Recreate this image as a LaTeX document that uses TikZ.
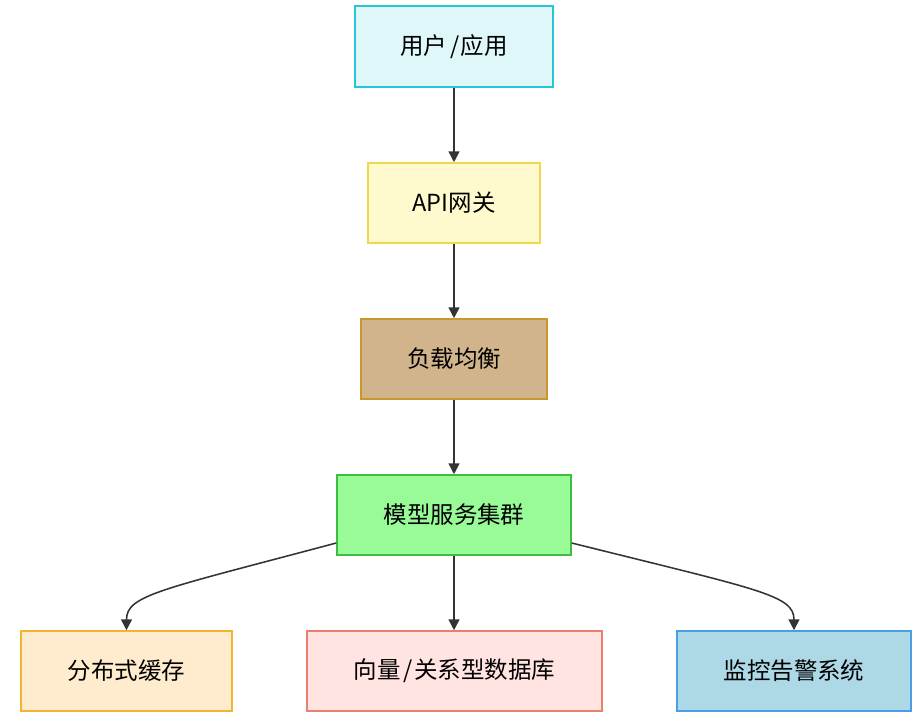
\documentclass[tikz,border=0pt]{standalone}
\usepackage{fontspec}
\newfontfamily\cjk{Noto Sans CJK SC}
\usepackage{tikz}
\usetikzlibrary{arrows.meta}

\definecolor{userfill}{HTML}{E0F7FA}
\definecolor{userline}{HTML}{26C6DA}
\definecolor{apifill}{HTML}{FFFACD}
\definecolor{apiline}{HTML}{F2D64B}
\definecolor{lbfill}{HTML}{D2B48C}
\definecolor{lbline}{HTML}{C8982E}
\definecolor{clusterfill}{HTML}{98FB98}
\definecolor{clusterline}{HTML}{3EBE3E}
\definecolor{cachefill}{HTML}{FFEBCD}
\definecolor{cacheline}{HTML}{F2B531}
\definecolor{dbfill}{HTML}{FFE4E1}
\definecolor{dbline}{HTML}{E9806E}
\definecolor{monfill}{HTML}{ADD8E6}
\definecolor{monline}{HTML}{4A9EE6}
\definecolor{arrowgray}{HTML}{333333}

\begin{document}
\begin{tikzpicture}[x=0.025cm,y=-0.025cm,
   box/.style={draw,line width=1.1pt,minimum height=2cm,inner sep=0pt,
      font=\cjk\fontsize{16.7}{20}\selectfont},
   flow/.style={draw=arrowgray,line width=1.1pt,
      -{Triangle[length=0.27cm,width=0.27cm]}}]
   \useasboundingbox (0,0) rectangle (924,723);

   \node[box,fill=userfill,draw=userline,minimum width=4.95cm,minimum height=2.025cm] (user) at (454,46.5) {用户\hspace{0.12em}/\hspace{0.05em}应用};
   \node[box,fill=apifill,draw=apiline,minimum width=4.3cm] (gateway) at (454,203) {API网关};
   \node[box,fill=lbfill,draw=lbline,minimum width=4.65cm] (balancer) at (454,359) {负载均衡};
   \node[box,fill=clusterfill,draw=clusterline,minimum width=5.85cm] (cluster) at (454,515) {模型服务集群};

   \node[box,fill=cachefill,draw=cacheline,minimum width=5.275cm] (cache) at (126.5,671) {分布式缓存};
   \node[box,fill=dbfill,draw=dbline,minimum width=7.375cm] (db) at (454.5,671) {向量\hspace{0.12em}/\hspace{0.05em}关系型数据库};
   \node[box,fill=monfill,draw=monline,minimum width=5.85cm] (monitor) at (794,671) {监控告警系统};

   \draw[flow] (user) -- (gateway);
   \draw[flow] (gateway) -- (balancer);
   \draw[flow] (balancer) -- (cluster);
   \draw[flow] (cluster.south) -- (cluster.south |- db.north);

   % side branches bend down into the outer boxes
   \draw[flow] (cluster.west |- 0,543) .. controls (160,590) and (126.5,595) .. (cache.north);
   \draw[flow] (cluster.east |- 0,543) .. controls (760,590) and (794,595) .. (monitor.north);
\end{tikzpicture}
\end{document}
